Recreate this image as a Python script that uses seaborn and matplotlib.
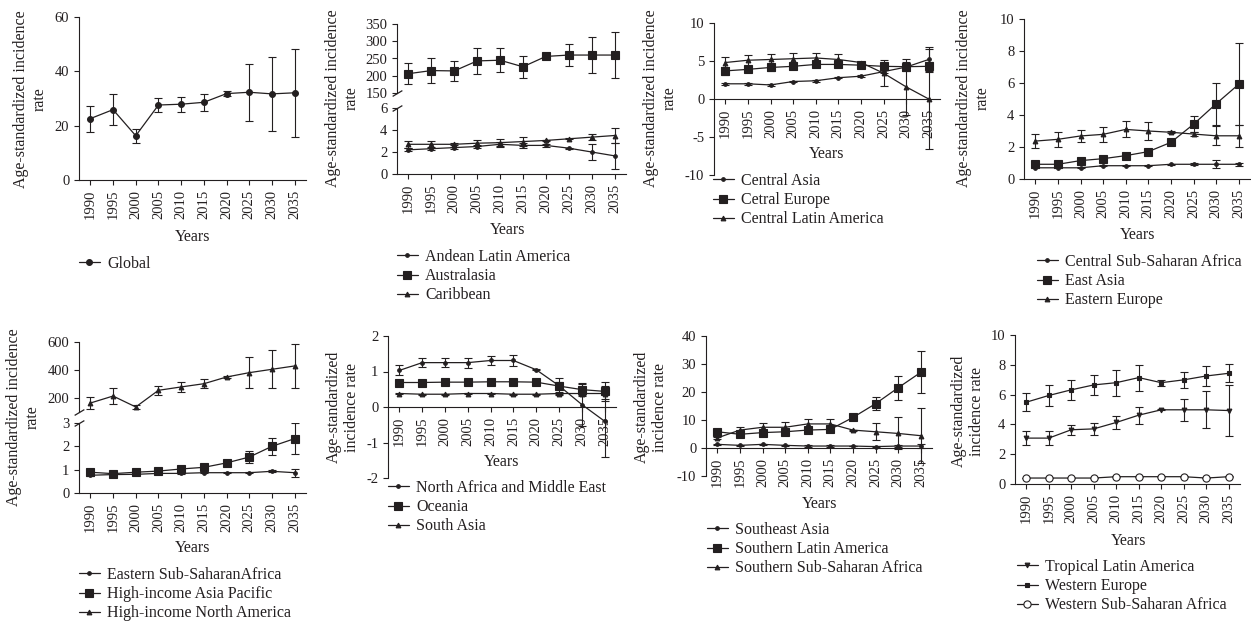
# -*- coding: utf-8 -*-
"""
Age-standardized incidence rate by region, 1990-2035 (observed + projected)
8 panels, error bars = uncertainty interval, 2 panels use a broken y axis
"""
import matplotlib
matplotlib.use('Agg')
import matplotlib.pyplot as plt
import seaborn as sns

W, H = 1251, 621
INK = '#231f20'

years = [1990, 1995, 2000, 2005, 2010, 2015, 2020, 2025, 2030, 2035]

# panel 1
global_val = [22.6, 25.9, 16.3, 27.6, 27.9, 28.6, 31.8, 32.3, 31.7, 32.1]
global_err = [4.8, 5.7, 2.6, 2.7, 2.7, 3.1, 0.9, 10.5, 13.7, 16.2]

# panel 2 (broken axis)
andean_val = [2.2, 2.3, 2.4, 2.5, 2.7, 2.6, 2.6, 2.35, 2.0, 1.65]
andean_err = [0.15, 0.15, 0.1, 0.15, 0.2, 0.2, 0.1, 0.05, 0.7, 1.2]
australasia_val = [206, 215, 214, 243, 245, 226, 256, 260, 260, 260]
australasia_err = [31, 36, 29, 37, 35, 32, 3, 32, 51, 67]
caribbean_val = [2.7, 2.7, 2.7, 2.8, 2.85, 2.95, 3.05, 3.2, 3.35, 3.5]
caribbean_err = [0.3, 0.3, 0.1, 0.25, 0.3, 0.4, 0.05, 0.05, 0.3, 0.65]

# panel 3
c_asia_val = [2.0, 2.0, 1.85, 2.3, 2.4, 2.8, 3.0, 3.6, 4.2, 5.2]
c_asia_err = [0.1, 0.1, 0.1, 0.1, 0.1, 0.1, 0.1, 0.2, 0.4, 1.6]
c_europe_val = [3.7, 3.9, 4.15, 4.3, 4.55, 4.55, 4.45, 4.3, 4.25, 4.3]
c_europe_err = [0.5, 0.4, 0.4, 0.4, 0.4, 0.4, 0.2, 0.3, 0.6, 0.6]
c_latam_val = [4.8, 5.1, 5.2, 5.3, 5.4, 5.2, 4.8, 3.4, 1.6, 0.0]
c_latam_err = [0.7, 0.7, 0.7, 0.7, 0.7, 0.75, 0.1, 1.7, 3.7, 6.6]

# panel 4
c_ssa_val = [0.7, 0.7, 0.7, 0.83, 0.83, 0.83, 0.92, 0.92, 0.92, 0.92]
c_ssa_err = [0.03, 0.03, 0.03, 0.03, 0.03, 0.03, 0.03, 0.05, 0.25, 0.1]
e_asia_val = [0.92, 0.92, 1.15, 1.27, 1.46, 1.71, 2.29, 3.42, 4.7, 5.92]
e_asia_err = [0.05, 0.05, 0.05, 0.05, 0.05, 0.05, 0.05, 0.5, 1.3, 2.55]
e_europe_val = [2.37, 2.48, 2.69, 2.79, 3.1, 3.0, 2.92, 2.81, 2.7, 2.7]
e_europe_err = [0.45, 0.45, 0.35, 0.45, 0.5, 0.55, 0.05, 0.15, 0.6, 0.7]

# panel 5 (broken axis)
e_ssa_val = [0.76, 0.79, 0.8, 0.84, 0.84, 0.87, 0.87, 0.87, 0.93, 0.87]
e_ssa_err = [0.03, 0.03, 0.03, 0.03, 0.03, 0.03, 0.02, 0.03, 0.05, 0.18]
hi_asia_val = [0.89, 0.83, 0.89, 0.94, 1.03, 1.1, 1.29, 1.54, 2.0, 2.33]
hi_asia_err = [0.05, 0.04, 0.05, 0.05, 0.05, 0.05, 0.03, 0.25, 0.36, 0.65]
hi_na_val = [164, 214, 136, 255, 279, 302, 350, 381, 405, 429]
hi_na_err = [46, 54, 17, 33, 36, 32, 5, 110, 137, 154]

# panel 6
name_val = [1.03, 1.25, 1.25, 1.25, 1.31, 1.31, 1.05, 0.6, 0.07, -0.4]
name_err = [0.14, 0.13, 0.13, 0.14, 0.14, 0.15, 0.02, 0.1, 0.6, 1.0]
oceania_val = [0.69, 0.69, 0.7, 0.7, 0.71, 0.71, 0.7, 0.59, 0.49, 0.44]
oceania_err = [0.02, 0.02, 0.02, 0.02, 0.02, 0.02, 0.02, 0.23, 0.17, 0.26]
s_asia_val = [0.38, 0.36, 0.36, 0.38, 0.38, 0.36, 0.36, 0.38, 0.38, 0.38]
s_asia_err = [0.01, 0.01, 0.01, 0.01, 0.01, 0.01, 0.01, 0.05, 0.05, 0.15]

# panel 7
se_asia_val = [1.3, 0.95, 1.3, 0.95, 0.7, 0.7, 0.7, 0.5, 0.7, 0.7]
se_asia_err = [0.3, 0.2, 0.3, 0.2, 0.2, 0.2, 0.1, 0.3, 0.5, 0.8]
s_latam_val = [5.8, 4.9, 5.5, 5.8, 6.4, 6.65, 10.9, 15.8, 21.5, 27.0]
s_latam_err = [0.5, 0.5, 0.5, 0.5, 0.5, 0.5, 0.3, 2.4, 4.2, 7.5]
s_ssa_val = [3.6, 6.4, 7.4, 7.4, 8.6, 8.6, 6.4, 5.8, 5.2, 4.4]
s_ssa_err = [0.5, 1.2, 1.5, 1.8, 1.8, 1.8, 0.2, 3.0, 5.7, 9.8]

# panel 8
t_latam_val = [3.08, 3.08, 3.64, 3.7, 4.13, 4.62, 4.98, 4.98, 4.98, 4.93]
t_latam_err = [0.47, 0.45, 0.32, 0.42, 0.45, 0.58, 0.03, 0.72, 1.25, 1.73]
w_europe_val = [5.49, 5.94, 6.32, 6.65, 6.8, 7.14, 6.8, 6.99, 7.25, 7.43]
w_europe_err = [0.62, 0.68, 0.67, 0.67, 0.87, 0.87, 0.2, 0.52, 0.7, 0.6]
w_ssa_val = [0.4, 0.4, 0.4, 0.4, 0.49, 0.49, 0.49, 0.49, 0.4, 0.49]
w_ssa_err = [0.02, 0.02, 0.02, 0.02, 0.02, 0.02, 0.02, 0.02, 0.02, 0.02]

YLAB_2 = 'Age-standardized incidence\nrate'
YLAB_3 = 'Age-standardized\nincidence rate'

# marker, markersize, facecolor
GLOBAL = ('o', 4.2, INK)
SM_CIRCLE = ('o', 2.6, INK)
BIG_SQUARE = ('s', 5.3, INK)
TRI = ('^', 3.4, INK)
DOWN_TRI = ('v', 3.4, INK)
SM_SQUARE = ('s', 3.0, INK)
OPEN_CIRCLE = ('o', 5.2, 'white')

TICK_FS = 10.5
TEXT_FS = 11.5

sns.set_theme(style='ticks')
plt.rcParams['font.family'] = ['Liberation Serif', 'DejaVu Serif']
plt.rcParams['axes.unicode_minus'] = False
plt.rcParams['font.size'] = TICK_FS
plt.rcParams['text.color'] = INK

fig = plt.figure(figsize=(W / 100, H / 100), dpi=100)


def fx(x):
    return x / W


def fy(y):
    return 1 - y / H


def new_ax(box, ylim, yticks, xaxis=True, zero=False):
    l, t, r, b = box
    ax = fig.add_axes([fx(l), fy(b), (r - l) / W, (b - t) / H])
    ax.spines['top'].set_visible(False)
    ax.spines['right'].set_visible(False)
    for s in ['left', 'bottom']:
        ax.spines[s].set_linewidth(0.8)
        ax.spines[s].set_color(INK)
    # spine position first: moving it resets the tick settings
    if zero:
        ax.spines['bottom'].set_position(('data', 0))
    ax.set_xlim(1987.5, 2037.5)
    ax.set_ylim(*ylim)
    ax.set_yticks(yticks)
    ax.set_xticks(years)
    ax.set_xticklabels([str(y) for y in years], rotation=90)
    ax.tick_params(axis='both', direction='out', length=3.5, width=0.8,
                   colors=INK, labelsize=TICK_FS, pad=3.5)
    if not xaxis:
        ax.spines['bottom'].set_visible(False)
        ax.tick_params(axis='x', bottom=False, labelbottom=False)
    ax.grid(False)
    return ax


def draw(ax, vals, errs, name, style):
    marker, ms, mfc = style
    ax.errorbar(years, vals, yerr=errs, fmt='none', ecolor=INK, elinewidth=0.8,
                capsize=3, capthick=0.8, zorder=2)
    sns.lineplot(x=years, y=vals, ax=ax, color=INK, marker=marker, markersize=ms,
                 markerfacecolor=mfc, markeredgecolor=INK, markeredgewidth=0.8,
                 linewidth=0.9, label=name, errorbar=None, legend=False, zorder=3)
    return ax.lines[-1]


def labels(ax, ylab, ylab_xy, xlab_xy):
    ax.set_ylabel(ylab, fontsize=TEXT_FS, color=INK)
    ax.yaxis.set_label_coords(fx(ylab_xy[0]), fy(ylab_xy[1]), transform=fig.transFigure)
    ax.yaxis.label.set_va('center')
    ax.set_xlabel('Years', fontsize=TEXT_FS, color=INK)
    ax.xaxis.set_label_coords(fx(xlab_xy[0]), fy(xlab_xy[1]), transform=fig.transFigure)
    ax.xaxis.label.set_va('center')


def legend(ax, handles, xy):
    ax.legend(handles=handles, loc='upper left', bbox_to_anchor=(fx(xy[0]), fy(xy[1])),
              bbox_transform=fig.transFigure, frameon=False, borderpad=0,
              borderaxespad=0, handlelength=1.3, handletextpad=0.45,
              labelspacing=0.2, fontsize=TEXT_FS, labelcolor=INK)


def break_marks(ax_top, ax_bot):
    kw = dict(marker=[(-1, -0.6), (1, 0.6)], markersize=7, linestyle='none',
              color=INK, mec=INK, mew=0.9, clip_on=False)
    ax_top.plot([0], [0], transform=ax_top.transAxes, **kw)
    ax_bot.plot([0], [1], transform=ax_bot.transAxes, **kw)


# ---- panel 1
ax = new_ax((79, 17, 306, 180), (0, 60), [0, 20, 40, 60])
h = [draw(ax, global_val, global_err, 'Global', GLOBAL)]
labels(ax, YLAB_2, (30, 99), (193, 237))
legend(ax, h, (79, 256))

# ---- panel 2
ax_t = new_ax((397, 24, 626, 93), (150, 350), [150, 200, 250, 300, 350], xaxis=False)
ax_b = new_ax((397, 108, 626, 174), (0, 6), [0, 2, 4, 6])
h1 = draw(ax_b, andean_val, andean_err, 'Andean Latin America', SM_CIRCLE)
h2 = draw(ax_t, australasia_val, australasia_err, 'Australasia', BIG_SQUARE)
h3 = draw(ax_b, caribbean_val, caribbean_err, 'Caribbean', TRI)
labels(ax_b, YLAB_2, (342, 98), (508, 230))
legend(ax_b, [h1, h2, h3], (397, 249))
break_marks(ax_t, ax_b)

# ---- panel 3
ax = new_ax((714, 23, 940, 175), (-10, 10), [-10, -5, 0, 5, 10], zero=True)
h = [draw(ax, c_asia_val, c_asia_err, 'Central Asia', SM_CIRCLE),
     draw(ax, c_europe_val, c_europe_err, 'Cetral Europe', BIG_SQUARE),
     draw(ax, c_latam_val, c_latam_err, 'Central Latin America', TRI)]
labels(ax, YLAB_2, (660, 98), (827, 154))
legend(ax, h, (713, 173))

# ---- panel 4
ax = new_ax((1024, 19, 1250, 179), (0, 10), [0, 2, 4, 6, 8, 10])
h = [draw(ax, c_ssa_val, c_ssa_err, 'Central Sub-Saharan Africa', SM_CIRCLE),
     draw(ax, e_asia_val, e_asia_err, 'East Asia', BIG_SQUARE),
     draw(ax, e_europe_val, e_europe_err, 'Eastern Europe', TRI)]
labels(ax, YLAB_2, (973, 98), (1138, 235))
legend(ax, h, (1037, 254))

# ---- panel 5
ax_t = new_ax((79, 342, 306, 412), (100, 600), [200, 400, 600], xaxis=False)
ax_b = new_ax((79, 423, 306, 493), (0, 3), [0, 1, 2, 3])
h1 = draw(ax_b, e_ssa_val, e_ssa_err, 'Eastern Sub-SaharanAfrica', SM_CIRCLE)
h2 = draw(ax_b, hi_asia_val, hi_asia_err, 'High-income Asia Pacific', BIG_SQUARE)
h3 = draw(ax_t, hi_na_val, hi_na_err, 'High-income North America', TRI)
labels(ax_b, YLAB_2, (23, 417), (193, 548))
legend(ax_b, [h1, h2, h3], (79, 567))
break_marks(ax_t, ax_b)

# ---- panel 6
ax = new_ax((388, 336, 616, 478), (-2, 2), [-2, -1, 0, 1, 2], zero=True)
h = [draw(ax, name_val, name_err, 'North Africa and Middle East', SM_CIRCLE),
     draw(ax, oceania_val, oceania_err, 'Oceania', BIG_SQUARE),
     draw(ax, s_asia_val, s_asia_err, 'South Asia', TRI)]
labels(ax, YLAB_3, (343, 407), (502, 462))
legend(ax, h, (388, 480))

# ---- panel 7
ax = new_ax((706, 336, 932, 476), (-10, 40), [-10, 0, 10, 20, 30, 40], zero=True)
h = [draw(ax, se_asia_val, se_asia_err, 'Southeast Asia', SM_CIRCLE),
     draw(ax, s_latam_val, s_latam_err, 'Southern Latin America', BIG_SQUARE),
     draw(ax, s_ssa_val, s_ssa_err, 'Southern Sub-Saharan Africa', TRI)]
labels(ax, YLAB_3, (651, 407), (820, 504))
legend(ax, h, (707, 522))

# ---- panel 8
ax = new_ax((1015, 335, 1240, 484), (0, 10), [0, 2, 4, 6, 8, 10])
h = [draw(ax, t_latam_val, t_latam_err, 'Tropical Latin America', DOWN_TRI),
     draw(ax, w_europe_val, w_europe_err, 'Western Europe', SM_SQUARE),
     draw(ax, w_ssa_val, w_ssa_err, 'Western Sub-Saharan Africa', OPEN_CIRCLE)]
labels(ax, YLAB_3, (968, 411), (1129, 541))
legend(ax, h, (1017, 559))

fig.savefig('out.png', dpi=100, facecolor='white')
